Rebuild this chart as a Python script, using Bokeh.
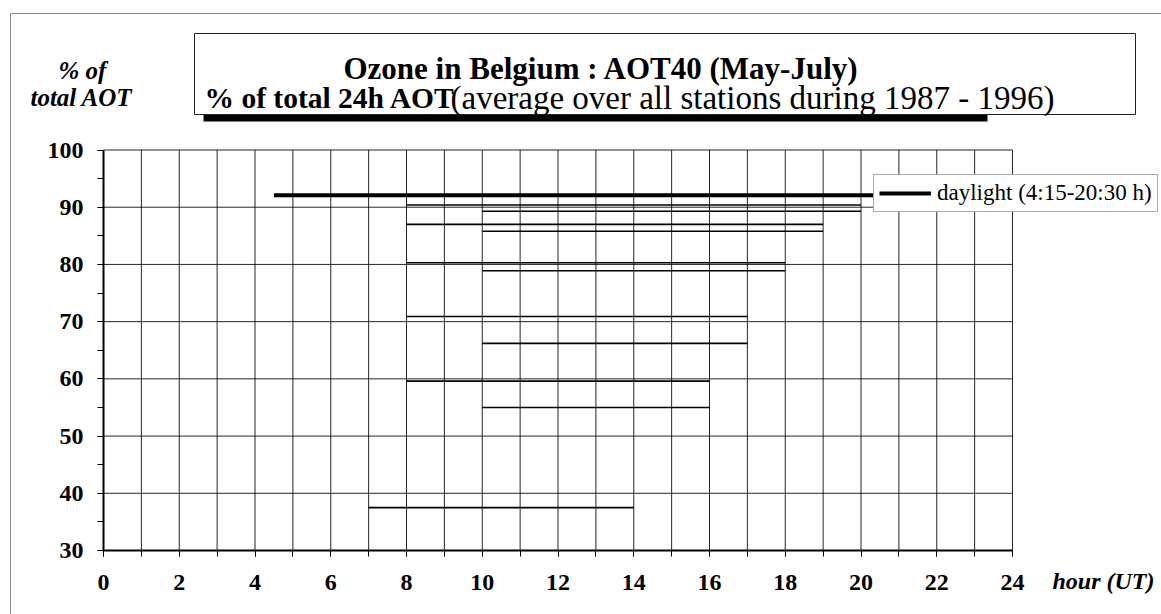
from bokeh.plotting import figure
from bokeh.models import Range1d, FixedTicker, Label, BoxAnnotation, Legend, LegendItem
from bokeh.embed import file_html
from bokeh.resources import INLINE

# ---------------- data ----------------
start_hour = [8, 10, 8, 10, 8, 10, 8, 10, 8, 10, 7]
end_hour = [20, 20, 19, 19, 18, 18, 17, 17, 16, 16, 14]
pct_total_aot = [90.4, 89.3, 87.0, 85.8, 80.3, 78.9, 70.9, 66.2, 59.6, 55.0, 37.5]

daylight_start = [4.5]
daylight_end = [20.5]
daylight_pct = [92.1]
daylight_label = "daylight (4:15-20:30 h)"

x_ticks = [0, 2, 4, 6, 8, 10, 12, 14, 16, 18, 20, 22, 24]
x_minor_ticks = list(range(0, 25))
y_ticks = [30, 40, 50, 60, 70, 80, 90, 100]
y_minor_ticks = [30, 35, 40, 45, 50, 55, 60, 65, 70, 75, 80, 85, 90, 95, 100]

title_text = "Ozone in Belgium : AOT40 (May-July)"
subtitle_bold = "% of total 24h AOT"
subtitle_normal = "(average over all stations during 1987 - 1996)"
y_title_1 = "%  of"
y_title_2 = "total AOT"
x_title = "hour (UT)"

SERIF = "Liberation Serif"

# ---------------- layout (pixels) ----------------
W, H = 1161, 614
PX_LEFT, PX_RIGHT, PX_TOP, PX_BOTTOM = 103, 1012, 149.5, 550
x_lo, x_hi = x_ticks[0], x_ticks[-1]
y_lo, y_hi = y_ticks[0], y_ticks[-1]
sx = (x_hi - x_lo) / (PX_RIGHT - PX_LEFT)
sy = (y_hi - y_lo) / (PX_BOTTOM - PX_TOP)
x_range = Range1d(x_lo - PX_LEFT * sx, x_hi + (W - PX_RIGHT) * sx)
y_range = Range1d(y_lo - (H - PX_BOTTOM) * sy, y_hi + PX_TOP * sy)

p = figure(width=W, height=H, x_range=x_range, y_range=y_range,
           output_backend="svg", toolbar_location=None, title=None,
           min_border=0, background_fill_color="white",
           border_fill_color="white")
p.outline_line_color = None
p.xgrid.visible = False
p.ygrid.visible = False

# grid lines (one per hour, one per 10 %), limited to the plot area
n_v = len(x_minor_ticks)
n_h = len(y_ticks)
p.segment(x0=x_minor_ticks, x1=x_minor_ticks, y0=[y_lo] * n_v, y1=[y_hi] * n_v,
          line_color="black", line_width=1, line_alpha=0.85)
p.segment(x0=[x_lo] * n_h, x1=[x_hi] * n_h, y0=y_ticks, y1=y_ticks,
          line_color="black", line_width=1, line_alpha=0.85)

# axes, fixed at the chart origin
p.xaxis.fixed_location = y_lo
p.yaxis.fixed_location = x_lo
p.xaxis.bounds = (x_lo, x_hi)
p.yaxis.bounds = (y_lo, y_hi)
for ax in (p.xaxis, p.yaxis):
    ax.axis_line_color = "black"
    ax.axis_line_width = 2
    ax.major_tick_line_color = "black"
    ax.minor_tick_line_color = "black"
    ax.major_tick_in = 0
    ax.minor_tick_in = 0
    ax.major_tick_out = 6
    ax.minor_tick_out = 6
    ax.major_label_text_font = SERIF
    ax.major_label_text_font_style = "bold"
    ax.major_label_text_font_size = "24px"
    ax.major_label_text_color = "black"

p.xaxis.ticker = FixedTicker(ticks=x_ticks, minor_ticks=x_minor_ticks)
p.yaxis.ticker = FixedTicker(ticks=y_ticks, minor_ticks=y_minor_ticks)
p.xaxis.major_label_standoff = 18
p.yaxis.major_label_standoff = 14

# data segments
p.segment(x0=start_hour, x1=end_hour, y0=pct_total_aot, y1=pct_total_aot,
          line_color="black", line_width=1.6)
dl = p.segment(x0=daylight_start, x1=daylight_end, y0=daylight_pct, y1=daylight_pct,
               line_color="black", line_width=4)

# outer chart border
p.add_layout(BoxAnnotation(left=10, right=3000, top=13, bottom=3000,
                           left_units="canvas", right_units="canvas",
                           top_units="canvas", bottom_units="canvas",
                           fill_alpha=0, line_color="#888", line_alpha=1,
                           line_width=1))

# title box with shadow bar
p.add_layout(BoxAnnotation(left=203, right=987, top=114, bottom=121,
                           left_units="canvas", right_units="canvas",
                           top_units="canvas", bottom_units="canvas",
                           fill_color="black", fill_alpha=1, line_alpha=0))
p.add_layout(BoxAnnotation(left=194, right=1135, top=33, bottom=114,
                           left_units="canvas", right_units="canvas",
                           top_units="canvas", bottom_units="canvas",
                           fill_color="white", fill_alpha=1, line_color="#222",
                           line_alpha=1, line_width=1))


def lab(text, x, y, size, style, align="left"):
    return Label(x=x, y=y, x_units="canvas", y_units="canvas", text=text,
                 text_font=SERIF, text_font_size=size, text_font_style=style,
                 text_align=align, text_baseline="alphabetic", text_color="black")


p.add_layout(lab(title_text, 343, 68, "31px", "bold"))
p.add_layout(lab(subtitle_bold, 204, 97, "29.5px", "bold"))
p.add_layout(lab(subtitle_normal, 450, 97, "33px", "normal"))
p.add_layout(lab(y_title_1, 85, 70, "25px", "bold italic", "center"))
p.add_layout(lab(y_title_2, 81, 97, "25px", "bold italic", "center"))
p.add_layout(lab(x_title, 1052, 580, "24px", "bold italic"))

legend = Legend(items=[LegendItem(label=daylight_label, renderers=[dl])],
                location=(873, H - 212), border_line_color="#555", border_line_width=1,
                background_fill_color="white", background_fill_alpha=1.0,
                padding=5, margin=0, glyph_width=52, glyph_height=22,
                label_standoff=6, label_text_font=SERIF, label_text_font_size="23px",
                label_text_color="black", label_height=24, spacing=0)
p.add_layout(legend)

open("out.html", "w").write(file_html(p, INLINE))
